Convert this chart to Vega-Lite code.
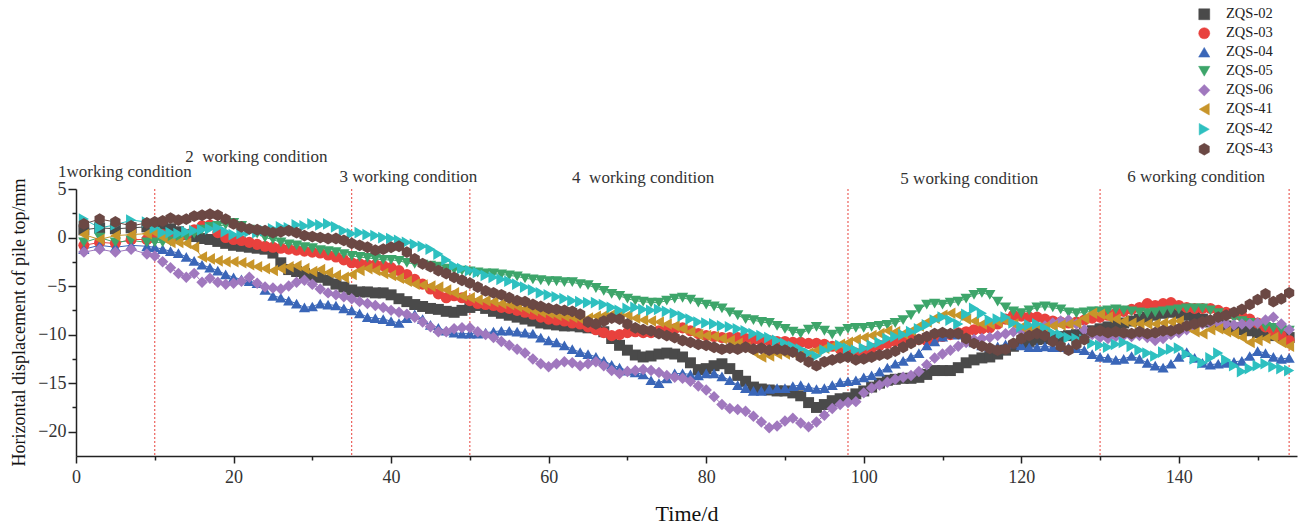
{
"$schema":"https://vega.github.io/schema/vega-lite/v6.json",
"width":1221,"height":267,
"autosize":{"type":"none"},
"padding":{"left":76,"top":189,"right":3,"bottom":70},
"background":"white",
"config":{"view":{"stroke":null},"font":"Liberation Serif"},
"resolve":{"axis":{"x":"independent","y":"independent"}},
"datasets":{
"rules":[{"d":10},{"d":35},{"d":50},{"d":98},{"d":130},{"d":154}],
"notes":[{"d":6.2,"v":6.2,"t":"1working condition"},{"d":22.9,"v":7.78,"t":"2\u00a0 working condition"},{"d":42.2,"v":5.72,"t":"3 working condition"},{"d":72.0,"v":5.62,"t":"4\u00a0 working condition"},{"d":113.4,"v":5.52,"t":"5 working condition"},{"d":142.2,"v":5.72,"t":"6 working condition"}],
"pts":[
{"d":1,"s":"ZQS-02","v":0.8},{"d":3,"s":"ZQS-02","v":1.0},{"d":5,"s":"ZQS-02","v":0.9},{"d":7,"s":"ZQS-02","v":1.0},{"d":9,"s":"ZQS-02","v":1.1},
{"d":10,"s":"ZQS-02","v":1.2},{"d":11,"s":"ZQS-02","v":1.1},{"d":12,"s":"ZQS-02","v":0.9},{"d":13,"s":"ZQS-02","v":0.6},{"d":14,"s":"ZQS-02","v":0.3},{"d":15,"s":"ZQS-02","v":0.1},{"d":16,"s":"ZQS-02","v":-0.1},{"d":17,"s":"ZQS-02","v":-0.2},{"d":18,"s":"ZQS-02","v":-0.4},{"d":19,"s":"ZQS-02","v":-0.6},
{"d":20,"s":"ZQS-02","v":-0.8},{"d":21,"s":"ZQS-02","v":-0.9},{"d":22,"s":"ZQS-02","v":-1.0},{"d":23,"s":"ZQS-02","v":-1.1},{"d":24,"s":"ZQS-02","v":-1.2},{"d":25,"s":"ZQS-02","v":-1.6},{"d":26,"s":"ZQS-02","v":-2.6},{"d":27,"s":"ZQS-02","v":-3.3},{"d":28,"s":"ZQS-02","v":-3.5},{"d":29,"s":"ZQS-02","v":-3.7},
{"d":30,"s":"ZQS-02","v":-3.9},{"d":31,"s":"ZQS-02","v":-4.1},{"d":32,"s":"ZQS-02","v":-4.4},{"d":33,"s":"ZQS-02","v":-4.8},{"d":34,"s":"ZQS-02","v":-5.1},{"d":35,"s":"ZQS-02","v":-5.4},{"d":36,"s":"ZQS-02","v":-5.6},{"d":37,"s":"ZQS-02","v":-5.6},{"d":38,"s":"ZQS-02","v":-5.7},{"d":39,"s":"ZQS-02","v":-5.7},
{"d":40,"s":"ZQS-02","v":-5.9},{"d":41,"s":"ZQS-02","v":-6.3},{"d":42,"s":"ZQS-02","v":-6.6},{"d":43,"s":"ZQS-02","v":-6.9},{"d":44,"s":"ZQS-02","v":-7.1},{"d":45,"s":"ZQS-02","v":-7.3},{"d":46,"s":"ZQS-02","v":-7.4},{"d":47,"s":"ZQS-02","v":-7.6},{"d":48,"s":"ZQS-02","v":-7.7},{"d":49,"s":"ZQS-02","v":-7.5},
{"d":50,"s":"ZQS-02","v":-7.2},{"d":51,"s":"ZQS-02","v":-7.0},{"d":52,"s":"ZQS-02","v":-7.3},{"d":53,"s":"ZQS-02","v":-7.6},{"d":54,"s":"ZQS-02","v":-7.8},{"d":55,"s":"ZQS-02","v":-8.0},{"d":56,"s":"ZQS-02","v":-8.2},{"d":57,"s":"ZQS-02","v":-8.4},{"d":58,"s":"ZQS-02","v":-8.6},{"d":59,"s":"ZQS-02","v":-8.8},
{"d":60,"s":"ZQS-02","v":-8.9},{"d":61,"s":"ZQS-02","v":-9.0},{"d":62,"s":"ZQS-02","v":-9.1},{"d":63,"s":"ZQS-02","v":-9.1},{"d":64,"s":"ZQS-02","v":-9.2},{"d":65,"s":"ZQS-02","v":-9.3},{"d":66,"s":"ZQS-02","v":-9.3},{"d":67,"s":"ZQS-02","v":-9.7},{"d":68,"s":"ZQS-02","v":-10.4},{"d":69,"s":"ZQS-02","v":-11.1},
{"d":70,"s":"ZQS-02","v":-11.6},{"d":71,"s":"ZQS-02","v":-12.1},{"d":72,"s":"ZQS-02","v":-12.3},{"d":73,"s":"ZQS-02","v":-12.2},{"d":74,"s":"ZQS-02","v":-12.0},{"d":75,"s":"ZQS-02","v":-11.9},{"d":76,"s":"ZQS-02","v":-12.0},{"d":77,"s":"ZQS-02","v":-12.3},{"d":78,"s":"ZQS-02","v":-12.9},{"d":79,"s":"ZQS-02","v":-13.6},
{"d":80,"s":"ZQS-02","v":-13.5},{"d":81,"s":"ZQS-02","v":-13.2},{"d":82,"s":"ZQS-02","v":-13.0},{"d":83,"s":"ZQS-02","v":-13.5},{"d":84,"s":"ZQS-02","v":-14.2},{"d":85,"s":"ZQS-02","v":-14.8},{"d":86,"s":"ZQS-02","v":-15.4},{"d":87,"s":"ZQS-02","v":-15.6},{"d":88,"s":"ZQS-02","v":-15.7},{"d":89,"s":"ZQS-02","v":-15.8},
{"d":90,"s":"ZQS-02","v":-15.8},{"d":91,"s":"ZQS-02","v":-16.0},{"d":92,"s":"ZQS-02","v":-16.3},{"d":93,"s":"ZQS-02","v":-17.0},{"d":94,"s":"ZQS-02","v":-17.5},{"d":95,"s":"ZQS-02","v":-17.2},{"d":96,"s":"ZQS-02","v":-16.8},{"d":97,"s":"ZQS-02","v":-16.6},{"d":98,"s":"ZQS-02","v":-16.5},{"d":99,"s":"ZQS-02","v":-16.1},
{"d":100,"s":"ZQS-02","v":-15.8},{"d":101,"s":"ZQS-02","v":-15.4},{"d":102,"s":"ZQS-02","v":-15.0},{"d":103,"s":"ZQS-02","v":-14.7},{"d":104,"s":"ZQS-02","v":-14.6},{"d":105,"s":"ZQS-02","v":-14.5},{"d":106,"s":"ZQS-02","v":-14.5},{"d":107,"s":"ZQS-02","v":-14.4},{"d":108,"s":"ZQS-02","v":-14.1},{"d":109,"s":"ZQS-02","v":-13.7},
{"d":110,"s":"ZQS-02","v":-13.7},{"d":111,"s":"ZQS-02","v":-13.7},{"d":112,"s":"ZQS-02","v":-13.4},{"d":113,"s":"ZQS-02","v":-12.9},{"d":114,"s":"ZQS-02","v":-12.6},{"d":115,"s":"ZQS-02","v":-12.4},{"d":116,"s":"ZQS-02","v":-12.3},{"d":117,"s":"ZQS-02","v":-12.0},{"d":118,"s":"ZQS-02","v":-11.6},{"d":119,"s":"ZQS-02","v":-11.2},
{"d":120,"s":"ZQS-02","v":-10.9},{"d":121,"s":"ZQS-02","v":-10.7},{"d":122,"s":"ZQS-02","v":-10.5},{"d":123,"s":"ZQS-02","v":-10.4},{"d":124,"s":"ZQS-02","v":-10.3},{"d":125,"s":"ZQS-02","v":-10.2},{"d":126,"s":"ZQS-02","v":-10.1},{"d":127,"s":"ZQS-02","v":-10.0},{"d":128,"s":"ZQS-02","v":-9.8},{"d":129,"s":"ZQS-02","v":-9.6},
{"d":130,"s":"ZQS-02","v":-9.4},{"d":131,"s":"ZQS-02","v":-9.2},{"d":132,"s":"ZQS-02","v":-9.0},{"d":133,"s":"ZQS-02","v":-8.8},{"d":134,"s":"ZQS-02","v":-8.6},{"d":135,"s":"ZQS-02","v":-8.4},{"d":136,"s":"ZQS-02","v":-8.2},{"d":137,"s":"ZQS-02","v":-8.0},{"d":138,"s":"ZQS-02","v":-7.8},{"d":139,"s":"ZQS-02","v":-7.7},
{"d":140,"s":"ZQS-02","v":-7.8},{"d":141,"s":"ZQS-02","v":-8.0},{"d":142,"s":"ZQS-02","v":-8.2},{"d":143,"s":"ZQS-02","v":-8.4},{"d":144,"s":"ZQS-02","v":-8.7},{"d":145,"s":"ZQS-02","v":-8.9},{"d":146,"s":"ZQS-02","v":-9.1},{"d":147,"s":"ZQS-02","v":-9.3},{"d":148,"s":"ZQS-02","v":-9.5},{"d":149,"s":"ZQS-02","v":-9.6},
{"d":150,"s":"ZQS-02","v":-9.8},{"d":151,"s":"ZQS-02","v":-10.0},{"d":152,"s":"ZQS-02","v":-10.1},{"d":153,"s":"ZQS-02","v":-10.2},{"d":154,"s":"ZQS-02","v":-10.3},
{"d":1,"s":"ZQS-03","v":-0.8},{"d":3,"s":"ZQS-03","v":-0.5},{"d":5,"s":"ZQS-03","v":-0.6},{"d":7,"s":"ZQS-03","v":-0.2},{"d":9,"s":"ZQS-03","v":-0.2},
{"d":10,"s":"ZQS-03","v":0.2},{"d":11,"s":"ZQS-03","v":0.3},{"d":12,"s":"ZQS-03","v":0.1},{"d":13,"s":"ZQS-03","v":0.0},{"d":14,"s":"ZQS-03","v":0.3},{"d":15,"s":"ZQS-03","v":0.8},{"d":16,"s":"ZQS-03","v":1.2},{"d":17,"s":"ZQS-03","v":1.3},{"d":18,"s":"ZQS-03","v":0.5},{"d":19,"s":"ZQS-03","v":0.0},
{"d":20,"s":"ZQS-03","v":-0.2},{"d":21,"s":"ZQS-03","v":-0.3},{"d":22,"s":"ZQS-03","v":-0.5},{"d":23,"s":"ZQS-03","v":-0.7},{"d":24,"s":"ZQS-03","v":-0.9},{"d":25,"s":"ZQS-03","v":-1.0},{"d":26,"s":"ZQS-03","v":-1.1},{"d":27,"s":"ZQS-03","v":-1.2},{"d":28,"s":"ZQS-03","v":-1.3},{"d":29,"s":"ZQS-03","v":-1.4},
{"d":30,"s":"ZQS-03","v":-1.5},{"d":31,"s":"ZQS-03","v":-1.6},{"d":32,"s":"ZQS-03","v":-1.8},{"d":33,"s":"ZQS-03","v":-2.0},{"d":34,"s":"ZQS-03","v":-2.3},{"d":35,"s":"ZQS-03","v":-2.6},{"d":36,"s":"ZQS-03","v":-2.7},{"d":37,"s":"ZQS-03","v":-2.8},{"d":38,"s":"ZQS-03","v":-2.8},{"d":39,"s":"ZQS-03","v":-2.9},
{"d":40,"s":"ZQS-03","v":-3.1},{"d":41,"s":"ZQS-03","v":-3.4},{"d":42,"s":"ZQS-03","v":-3.8},{"d":43,"s":"ZQS-03","v":-4.3},{"d":44,"s":"ZQS-03","v":-4.8},{"d":45,"s":"ZQS-03","v":-5.3},{"d":46,"s":"ZQS-03","v":-5.8},{"d":47,"s":"ZQS-03","v":-6.2},{"d":48,"s":"ZQS-03","v":-6.0},{"d":49,"s":"ZQS-03","v":-6.2},
{"d":50,"s":"ZQS-03","v":-6.5},{"d":51,"s":"ZQS-03","v":-6.8},{"d":52,"s":"ZQS-03","v":-6.9},{"d":53,"s":"ZQS-03","v":-7.0},{"d":54,"s":"ZQS-03","v":-7.2},{"d":55,"s":"ZQS-03","v":-7.3},{"d":56,"s":"ZQS-03","v":-7.5},{"d":57,"s":"ZQS-03","v":-7.7},{"d":58,"s":"ZQS-03","v":-7.9},{"d":59,"s":"ZQS-03","v":-8.2},
{"d":60,"s":"ZQS-03","v":-8.4},{"d":61,"s":"ZQS-03","v":-8.5},{"d":62,"s":"ZQS-03","v":-8.6},{"d":63,"s":"ZQS-03","v":-8.8},{"d":64,"s":"ZQS-03","v":-8.9},{"d":65,"s":"ZQS-03","v":-9.2},{"d":66,"s":"ZQS-03","v":-9.5},{"d":67,"s":"ZQS-03","v":-9.8},{"d":68,"s":"ZQS-03","v":-10.1},{"d":69,"s":"ZQS-03","v":-10.0},
{"d":70,"s":"ZQS-03","v":-9.8},{"d":71,"s":"ZQS-03","v":-9.7},{"d":72,"s":"ZQS-03","v":-9.8},{"d":73,"s":"ZQS-03","v":-9.8},{"d":74,"s":"ZQS-03","v":-9.6},{"d":75,"s":"ZQS-03","v":-9.5},{"d":76,"s":"ZQS-03","v":-9.4},{"d":77,"s":"ZQS-03","v":-9.3},{"d":78,"s":"ZQS-03","v":-9.6},{"d":79,"s":"ZQS-03","v":-9.9},
{"d":80,"s":"ZQS-03","v":-10.1},{"d":81,"s":"ZQS-03","v":-10.2},{"d":82,"s":"ZQS-03","v":-10.3},{"d":83,"s":"ZQS-03","v":-10.3},{"d":84,"s":"ZQS-03","v":-10.3},{"d":85,"s":"ZQS-03","v":-10.4},{"d":86,"s":"ZQS-03","v":-10.5},{"d":87,"s":"ZQS-03","v":-10.6},{"d":88,"s":"ZQS-03","v":-10.6},{"d":89,"s":"ZQS-03","v":-10.7},
{"d":90,"s":"ZQS-03","v":-10.7},{"d":91,"s":"ZQS-03","v":-10.8},{"d":92,"s":"ZQS-03","v":-10.8},{"d":93,"s":"ZQS-03","v":-10.9},{"d":94,"s":"ZQS-03","v":-10.9},{"d":95,"s":"ZQS-03","v":-11.0},{"d":96,"s":"ZQS-03","v":-11.2},{"d":97,"s":"ZQS-03","v":-11.5},{"d":98,"s":"ZQS-03","v":-11.7},{"d":99,"s":"ZQS-03","v":-11.9},
{"d":100,"s":"ZQS-03","v":-11.7},{"d":101,"s":"ZQS-03","v":-11.4},{"d":102,"s":"ZQS-03","v":-11.1},{"d":103,"s":"ZQS-03","v":-10.9},{"d":104,"s":"ZQS-03","v":-10.7},{"d":105,"s":"ZQS-03","v":-10.5},{"d":106,"s":"ZQS-03","v":-10.4},{"d":107,"s":"ZQS-03","v":-10.5},{"d":108,"s":"ZQS-03","v":-10.6},{"d":109,"s":"ZQS-03","v":-10.4},
{"d":110,"s":"ZQS-03","v":-10.2},{"d":111,"s":"ZQS-03","v":-10.0},{"d":112,"s":"ZQS-03","v":-9.8},{"d":113,"s":"ZQS-03","v":-9.7},{"d":114,"s":"ZQS-03","v":-9.5},{"d":115,"s":"ZQS-03","v":-9.4},{"d":116,"s":"ZQS-03","v":-9.3},{"d":117,"s":"ZQS-03","v":-8.9},{"d":118,"s":"ZQS-03","v":-8.4},{"d":119,"s":"ZQS-03","v":-8.0},
{"d":120,"s":"ZQS-03","v":-8.1},{"d":121,"s":"ZQS-03","v":-8.2},{"d":122,"s":"ZQS-03","v":-8.2},{"d":123,"s":"ZQS-03","v":-8.4},{"d":124,"s":"ZQS-03","v":-8.6},{"d":125,"s":"ZQS-03","v":-8.7},{"d":126,"s":"ZQS-03","v":-8.8},{"d":127,"s":"ZQS-03","v":-8.7},{"d":128,"s":"ZQS-03","v":-8.5},{"d":129,"s":"ZQS-03","v":-8.3},
{"d":130,"s":"ZQS-03","v":-8.2},{"d":131,"s":"ZQS-03","v":-8.0},{"d":132,"s":"ZQS-03","v":-7.8},{"d":133,"s":"ZQS-03","v":-7.6},{"d":134,"s":"ZQS-03","v":-7.4},{"d":135,"s":"ZQS-03","v":-7.2},{"d":136,"s":"ZQS-03","v":-6.8},{"d":137,"s":"ZQS-03","v":-7.0},{"d":138,"s":"ZQS-03","v":-6.8},{"d":139,"s":"ZQS-03","v":-6.7},
{"d":140,"s":"ZQS-03","v":-7.0},{"d":141,"s":"ZQS-03","v":-7.2},{"d":142,"s":"ZQS-03","v":-7.3},{"d":143,"s":"ZQS-03","v":-7.3},{"d":144,"s":"ZQS-03","v":-7.3},{"d":145,"s":"ZQS-03","v":-7.5},{"d":146,"s":"ZQS-03","v":-7.7},{"d":147,"s":"ZQS-03","v":-7.9},{"d":148,"s":"ZQS-03","v":-8.1},{"d":149,"s":"ZQS-03","v":-8.4},
{"d":150,"s":"ZQS-03","v":-8.8},{"d":151,"s":"ZQS-03","v":-9.2},{"d":152,"s":"ZQS-03","v":-9.6},{"d":153,"s":"ZQS-03","v":-10.1},{"d":154,"s":"ZQS-03","v":-10.6},
{"d":1,"s":"ZQS-04","v":-1.2},{"d":3,"s":"ZQS-04","v":-0.8},{"d":5,"s":"ZQS-04","v":-1.0},{"d":7,"s":"ZQS-04","v":-0.8},{"d":9,"s":"ZQS-04","v":-0.9},
{"d":10,"s":"ZQS-04","v":-1.0},{"d":11,"s":"ZQS-04","v":-1.2},{"d":12,"s":"ZQS-04","v":-1.4},{"d":13,"s":"ZQS-04","v":-1.6},{"d":14,"s":"ZQS-04","v":-2.0},{"d":15,"s":"ZQS-04","v":-2.4},{"d":16,"s":"ZQS-04","v":-2.8},{"d":17,"s":"ZQS-04","v":-3.1},{"d":18,"s":"ZQS-04","v":-3.4},{"d":19,"s":"ZQS-04","v":-3.8},
{"d":20,"s":"ZQS-04","v":-4.1},{"d":21,"s":"ZQS-04","v":-4.3},{"d":22,"s":"ZQS-04","v":-4.5},{"d":23,"s":"ZQS-04","v":-4.7},{"d":24,"s":"ZQS-04","v":-5.4},{"d":25,"s":"ZQS-04","v":-6.0},{"d":26,"s":"ZQS-04","v":-6.2},{"d":27,"s":"ZQS-04","v":-6.5},{"d":28,"s":"ZQS-04","v":-6.8},{"d":29,"s":"ZQS-04","v":-7.2},
{"d":30,"s":"ZQS-04","v":-7.1},{"d":31,"s":"ZQS-04","v":-6.8},{"d":32,"s":"ZQS-04","v":-6.9},{"d":33,"s":"ZQS-04","v":-7.0},{"d":34,"s":"ZQS-04","v":-7.3},{"d":35,"s":"ZQS-04","v":-7.5},{"d":36,"s":"ZQS-04","v":-7.8},{"d":37,"s":"ZQS-04","v":-8.2},{"d":38,"s":"ZQS-04","v":-8.3},{"d":39,"s":"ZQS-04","v":-8.4},
{"d":40,"s":"ZQS-04","v":-8.6},{"d":41,"s":"ZQS-04","v":-8.8},{"d":42,"s":"ZQS-04","v":-8.3},{"d":43,"s":"ZQS-04","v":-7.9},{"d":44,"s":"ZQS-04","v":-8.4},{"d":45,"s":"ZQS-04","v":-9.0},{"d":46,"s":"ZQS-04","v":-9.3},{"d":47,"s":"ZQS-04","v":-9.6},{"d":48,"s":"ZQS-04","v":-9.8},{"d":49,"s":"ZQS-04","v":-9.9},
{"d":50,"s":"ZQS-04","v":-9.9},{"d":51,"s":"ZQS-04","v":-9.9},{"d":52,"s":"ZQS-04","v":-9.8},{"d":53,"s":"ZQS-04","v":-9.7},{"d":54,"s":"ZQS-04","v":-9.6},{"d":55,"s":"ZQS-04","v":-9.6},{"d":56,"s":"ZQS-04","v":-9.7},{"d":57,"s":"ZQS-04","v":-9.8},{"d":58,"s":"ZQS-04","v":-9.9},{"d":59,"s":"ZQS-04","v":-10.3},
{"d":60,"s":"ZQS-04","v":-10.6},{"d":61,"s":"ZQS-04","v":-10.8},{"d":62,"s":"ZQS-04","v":-11.1},{"d":63,"s":"ZQS-04","v":-11.5},{"d":64,"s":"ZQS-04","v":-11.8},{"d":65,"s":"ZQS-04","v":-12.0},{"d":66,"s":"ZQS-04","v":-12.3},{"d":67,"s":"ZQS-04","v":-12.7},{"d":68,"s":"ZQS-04","v":-13.1},{"d":69,"s":"ZQS-04","v":-13.4},
{"d":70,"s":"ZQS-04","v":-13.7},{"d":71,"s":"ZQS-04","v":-13.9},{"d":72,"s":"ZQS-04","v":-14.1},{"d":73,"s":"ZQS-04","v":-14.7},{"d":74,"s":"ZQS-04","v":-15.0},{"d":75,"s":"ZQS-04","v":-14.5},{"d":76,"s":"ZQS-04","v":-14.0},{"d":77,"s":"ZQS-04","v":-14.0},{"d":78,"s":"ZQS-04","v":-14.1},{"d":79,"s":"ZQS-04","v":-14.2},
{"d":80,"s":"ZQS-04","v":-14.0},{"d":81,"s":"ZQS-04","v":-14.0},{"d":82,"s":"ZQS-04","v":-14.3},{"d":83,"s":"ZQS-04","v":-14.7},{"d":84,"s":"ZQS-04","v":-15.2},{"d":85,"s":"ZQS-04","v":-15.5},{"d":86,"s":"ZQS-04","v":-15.8},{"d":87,"s":"ZQS-04","v":-15.8},{"d":88,"s":"ZQS-04","v":-15.6},{"d":89,"s":"ZQS-04","v":-15.5},
{"d":90,"s":"ZQS-04","v":-15.5},{"d":91,"s":"ZQS-04","v":-15.3},{"d":92,"s":"ZQS-04","v":-15.2},{"d":93,"s":"ZQS-04","v":-15.4},{"d":94,"s":"ZQS-04","v":-15.6},{"d":95,"s":"ZQS-04","v":-15.5},{"d":96,"s":"ZQS-04","v":-15.2},{"d":97,"s":"ZQS-04","v":-14.9},{"d":98,"s":"ZQS-04","v":-14.8},{"d":99,"s":"ZQS-04","v":-14.7},
{"d":100,"s":"ZQS-04","v":-14.4},{"d":101,"s":"ZQS-04","v":-14.2},{"d":102,"s":"ZQS-04","v":-13.8},{"d":103,"s":"ZQS-04","v":-13.4},{"d":104,"s":"ZQS-04","v":-13.0},{"d":105,"s":"ZQS-04","v":-12.7},{"d":106,"s":"ZQS-04","v":-12.3},{"d":107,"s":"ZQS-04","v":-11.9},{"d":108,"s":"ZQS-04","v":-11.1},{"d":109,"s":"ZQS-04","v":-10.7},
{"d":110,"s":"ZQS-04","v":-10.2},{"d":111,"s":"ZQS-04","v":-9.9},{"d":112,"s":"ZQS-04","v":-10.0},{"d":113,"s":"ZQS-04","v":-10.4},{"d":114,"s":"ZQS-04","v":-10.8},{"d":115,"s":"ZQS-04","v":-11.1},{"d":116,"s":"ZQS-04","v":-11.3},{"d":117,"s":"ZQS-04","v":-11.2},{"d":118,"s":"ZQS-04","v":-11.0},{"d":119,"s":"ZQS-04","v":-10.9},
{"d":120,"s":"ZQS-04","v":-11.1},{"d":121,"s":"ZQS-04","v":-11.3},{"d":122,"s":"ZQS-04","v":-11.3},{"d":123,"s":"ZQS-04","v":-11.2},{"d":124,"s":"ZQS-04","v":-11.3},{"d":125,"s":"ZQS-04","v":-11.3},{"d":126,"s":"ZQS-04","v":-11.3},{"d":127,"s":"ZQS-04","v":-11.4},{"d":128,"s":"ZQS-04","v":-11.6},{"d":129,"s":"ZQS-04","v":-12.0},
{"d":130,"s":"ZQS-04","v":-12.3},{"d":131,"s":"ZQS-04","v":-12.4},{"d":132,"s":"ZQS-04","v":-12.6},{"d":133,"s":"ZQS-04","v":-12.5},{"d":134,"s":"ZQS-04","v":-12.2},{"d":135,"s":"ZQS-04","v":-12.5},{"d":136,"s":"ZQS-04","v":-12.9},{"d":137,"s":"ZQS-04","v":-13.2},{"d":138,"s":"ZQS-04","v":-13.4},{"d":139,"s":"ZQS-04","v":-13.0},
{"d":140,"s":"ZQS-04","v":-12.3},{"d":141,"s":"ZQS-04","v":-11.8},{"d":142,"s":"ZQS-04","v":-12.4},{"d":143,"s":"ZQS-04","v":-12.9},{"d":144,"s":"ZQS-04","v":-13.1},{"d":145,"s":"ZQS-04","v":-13.0},{"d":146,"s":"ZQS-04","v":-12.9},{"d":147,"s":"ZQS-04","v":-12.8},{"d":148,"s":"ZQS-04","v":-12.7},{"d":149,"s":"ZQS-04","v":-12.2},
{"d":150,"s":"ZQS-04","v":-11.7},{"d":151,"s":"ZQS-04","v":-11.9},{"d":152,"s":"ZQS-04","v":-12.3},{"d":153,"s":"ZQS-04","v":-12.5},{"d":154,"s":"ZQS-04","v":-12.4},
{"d":1,"s":"ZQS-05","v":-0.5},{"d":3,"s":"ZQS-05","v":0.0},{"d":5,"s":"ZQS-05","v":-0.5},{"d":7,"s":"ZQS-05","v":-0.3},{"d":9,"s":"ZQS-05","v":-0.5},
{"d":10,"s":"ZQS-05","v":-0.5},{"d":11,"s":"ZQS-05","v":-0.5},{"d":12,"s":"ZQS-05","v":-0.4},{"d":13,"s":"ZQS-05","v":-0.2},{"d":14,"s":"ZQS-05","v":0.1},{"d":15,"s":"ZQS-05","v":0.4},{"d":16,"s":"ZQS-05","v":0.8},{"d":17,"s":"ZQS-05","v":1.1},{"d":18,"s":"ZQS-05","v":1.2},{"d":19,"s":"ZQS-05","v":1.3},
{"d":20,"s":"ZQS-05","v":1.5},{"d":21,"s":"ZQS-05","v":1.2},{"d":22,"s":"ZQS-05","v":0.8},{"d":23,"s":"ZQS-05","v":0.4},{"d":24,"s":"ZQS-05","v":0.0},{"d":25,"s":"ZQS-05","v":-0.2},{"d":26,"s":"ZQS-05","v":-0.5},{"d":27,"s":"ZQS-05","v":-0.7},{"d":28,"s":"ZQS-05","v":-0.8},{"d":29,"s":"ZQS-05","v":-1.0},
{"d":30,"s":"ZQS-05","v":-1.1},{"d":31,"s":"ZQS-05","v":-1.3},{"d":32,"s":"ZQS-05","v":-1.4},{"d":33,"s":"ZQS-05","v":-1.5},{"d":34,"s":"ZQS-05","v":-1.7},{"d":35,"s":"ZQS-05","v":-1.9},{"d":36,"s":"ZQS-05","v":-2.0},{"d":37,"s":"ZQS-05","v":-2.1},{"d":38,"s":"ZQS-05","v":-2.2},{"d":39,"s":"ZQS-05","v":-2.3},
{"d":40,"s":"ZQS-05","v":-2.3},{"d":41,"s":"ZQS-05","v":-2.4},{"d":42,"s":"ZQS-05","v":-2.6},{"d":43,"s":"ZQS-05","v":-2.7},{"d":44,"s":"ZQS-05","v":-2.8},{"d":45,"s":"ZQS-05","v":-2.9},{"d":46,"s":"ZQS-05","v":-3.0},{"d":47,"s":"ZQS-05","v":-3.2},{"d":48,"s":"ZQS-05","v":-3.3},{"d":49,"s":"ZQS-05","v":-3.4},
{"d":50,"s":"ZQS-05","v":-3.5},{"d":51,"s":"ZQS-05","v":-3.6},{"d":52,"s":"ZQS-05","v":-3.7},{"d":53,"s":"ZQS-05","v":-3.7},{"d":54,"s":"ZQS-05","v":-3.8},{"d":55,"s":"ZQS-05","v":-3.9},{"d":56,"s":"ZQS-05","v":-4.0},{"d":57,"s":"ZQS-05","v":-4.2},{"d":58,"s":"ZQS-05","v":-4.3},{"d":59,"s":"ZQS-05","v":-4.4},
{"d":60,"s":"ZQS-05","v":-4.5},{"d":61,"s":"ZQS-05","v":-4.5},{"d":62,"s":"ZQS-05","v":-4.6},{"d":63,"s":"ZQS-05","v":-4.6},{"d":64,"s":"ZQS-05","v":-4.8},{"d":65,"s":"ZQS-05","v":-4.9},{"d":66,"s":"ZQS-05","v":-5.2},{"d":67,"s":"ZQS-05","v":-5.5},{"d":68,"s":"ZQS-05","v":-5.8},{"d":69,"s":"ZQS-05","v":-6.0},
{"d":70,"s":"ZQS-05","v":-6.3},{"d":71,"s":"ZQS-05","v":-6.5},{"d":72,"s":"ZQS-05","v":-6.6},{"d":73,"s":"ZQS-05","v":-6.7},{"d":74,"s":"ZQS-05","v":-6.7},{"d":75,"s":"ZQS-05","v":-6.5},{"d":76,"s":"ZQS-05","v":-6.3},{"d":77,"s":"ZQS-05","v":-6.2},{"d":78,"s":"ZQS-05","v":-6.4},{"d":79,"s":"ZQS-05","v":-6.7},
{"d":80,"s":"ZQS-05","v":-6.9},{"d":81,"s":"ZQS-05","v":-7.1},{"d":82,"s":"ZQS-05","v":-7.3},{"d":83,"s":"ZQS-05","v":-7.7},{"d":84,"s":"ZQS-05","v":-8.0},{"d":85,"s":"ZQS-05","v":-8.4},{"d":86,"s":"ZQS-05","v":-8.5},{"d":87,"s":"ZQS-05","v":-8.7},{"d":88,"s":"ZQS-05","v":-8.8},{"d":89,"s":"ZQS-05","v":-9.1},
{"d":90,"s":"ZQS-05","v":-9.4},{"d":91,"s":"ZQS-05","v":-9.7},{"d":92,"s":"ZQS-05","v":-9.9},{"d":93,"s":"ZQS-05","v":-9.5},{"d":94,"s":"ZQS-05","v":-9.2},{"d":95,"s":"ZQS-05","v":-9.6},{"d":96,"s":"ZQS-05","v":-10.0},{"d":97,"s":"ZQS-05","v":-9.7},{"d":98,"s":"ZQS-05","v":-9.4},{"d":99,"s":"ZQS-05","v":-9.3},
{"d":100,"s":"ZQS-05","v":-9.3},{"d":101,"s":"ZQS-05","v":-9.2},{"d":102,"s":"ZQS-05","v":-9.1},{"d":103,"s":"ZQS-05","v":-9.0},{"d":104,"s":"ZQS-05","v":-8.8},{"d":105,"s":"ZQS-05","v":-8.5},{"d":106,"s":"ZQS-05","v":-8.0},{"d":107,"s":"ZQS-05","v":-7.4},{"d":108,"s":"ZQS-05","v":-6.9},{"d":109,"s":"ZQS-05","v":-6.8},
{"d":110,"s":"ZQS-05","v":-6.9},{"d":111,"s":"ZQS-05","v":-6.7},{"d":112,"s":"ZQS-05","v":-6.6},{"d":113,"s":"ZQS-05","v":-6.3},{"d":114,"s":"ZQS-05","v":-5.9},{"d":115,"s":"ZQS-05","v":-5.7},{"d":116,"s":"ZQS-05","v":-5.9},{"d":117,"s":"ZQS-05","v":-6.6},{"d":118,"s":"ZQS-05","v":-7.2},{"d":119,"s":"ZQS-05","v":-7.6},
{"d":120,"s":"ZQS-05","v":-7.8},{"d":121,"s":"ZQS-05","v":-7.5},{"d":122,"s":"ZQS-05","v":-7.2},{"d":123,"s":"ZQS-05","v":-7.1},{"d":124,"s":"ZQS-05","v":-7.2},{"d":125,"s":"ZQS-05","v":-7.4},{"d":126,"s":"ZQS-05","v":-7.7},{"d":127,"s":"ZQS-05","v":-7.8},{"d":128,"s":"ZQS-05","v":-7.7},{"d":129,"s":"ZQS-05","v":-7.6},
{"d":130,"s":"ZQS-05","v":-7.6},{"d":131,"s":"ZQS-05","v":-7.5},{"d":132,"s":"ZQS-05","v":-7.4},{"d":133,"s":"ZQS-05","v":-7.5},{"d":134,"s":"ZQS-05","v":-7.6},{"d":135,"s":"ZQS-05","v":-7.7},{"d":136,"s":"ZQS-05","v":-7.8},{"d":137,"s":"ZQS-05","v":-7.7},{"d":138,"s":"ZQS-05","v":-7.6},{"d":139,"s":"ZQS-05","v":-7.5},
{"d":140,"s":"ZQS-05","v":-7.4},{"d":141,"s":"ZQS-05","v":-7.3},{"d":142,"s":"ZQS-05","v":-7.3},{"d":143,"s":"ZQS-05","v":-7.3},{"d":144,"s":"ZQS-05","v":-7.5},{"d":145,"s":"ZQS-05","v":-7.8},{"d":146,"s":"ZQS-05","v":-8.1},{"d":147,"s":"ZQS-05","v":-8.3},{"d":148,"s":"ZQS-05","v":-8.6},{"d":149,"s":"ZQS-05","v":-8.8},
{"d":150,"s":"ZQS-05","v":-9.0},{"d":151,"s":"ZQS-05","v":-9.2},{"d":152,"s":"ZQS-05","v":-9.3},{"d":153,"s":"ZQS-05","v":-9.5},{"d":154,"s":"ZQS-05","v":-9.6},
{"d":1,"s":"ZQS-06","v":-1.5},{"d":3,"s":"ZQS-06","v":-1.2},{"d":5,"s":"ZQS-06","v":-1.5},{"d":7,"s":"ZQS-06","v":-1.2},{"d":9,"s":"ZQS-06","v":-1.7},
{"d":10,"s":"ZQS-06","v":-1.9},{"d":11,"s":"ZQS-06","v":-2.5},{"d":12,"s":"ZQS-06","v":-3.1},{"d":13,"s":"ZQS-06","v":-3.7},{"d":14,"s":"ZQS-06","v":-4.1},{"d":15,"s":"ZQS-06","v":-3.7},{"d":16,"s":"ZQS-06","v":-4.6},{"d":17,"s":"ZQS-06","v":-4.2},{"d":18,"s":"ZQS-06","v":-4.6},{"d":19,"s":"ZQS-06","v":-4.8},
{"d":20,"s":"ZQS-06","v":-4.7},{"d":21,"s":"ZQS-06","v":-4.5},{"d":22,"s":"ZQS-06","v":-4.1},{"d":23,"s":"ZQS-06","v":-4.7},{"d":24,"s":"ZQS-06","v":-5.1},{"d":25,"s":"ZQS-06","v":-5.2},{"d":26,"s":"ZQS-06","v":-5.3},{"d":27,"s":"ZQS-06","v":-5.0},{"d":28,"s":"ZQS-06","v":-4.6},{"d":29,"s":"ZQS-06","v":-4.4},
{"d":30,"s":"ZQS-06","v":-4.8},{"d":31,"s":"ZQS-06","v":-5.3},{"d":32,"s":"ZQS-06","v":-5.7},{"d":33,"s":"ZQS-06","v":-5.9},{"d":34,"s":"ZQS-06","v":-6.1},{"d":35,"s":"ZQS-06","v":-6.3},{"d":36,"s":"ZQS-06","v":-6.6},{"d":37,"s":"ZQS-06","v":-6.8},{"d":38,"s":"ZQS-06","v":-7.0},{"d":39,"s":"ZQS-06","v":-7.2},
{"d":40,"s":"ZQS-06","v":-7.5},{"d":41,"s":"ZQS-06","v":-7.7},{"d":42,"s":"ZQS-06","v":-7.9},{"d":43,"s":"ZQS-06","v":-8.2},{"d":44,"s":"ZQS-06","v":-8.7},{"d":45,"s":"ZQS-06","v":-9.2},{"d":46,"s":"ZQS-06","v":-9.7},{"d":47,"s":"ZQS-06","v":-9.7},{"d":48,"s":"ZQS-06","v":-9.4},{"d":49,"s":"ZQS-06","v":-9.3},
{"d":50,"s":"ZQS-06","v":-9.3},{"d":51,"s":"ZQS-06","v":-9.7},{"d":52,"s":"ZQS-06","v":-10.0},{"d":53,"s":"ZQS-06","v":-10.3},{"d":54,"s":"ZQS-06","v":-10.7},{"d":55,"s":"ZQS-06","v":-11.1},{"d":56,"s":"ZQS-06","v":-11.5},{"d":57,"s":"ZQS-06","v":-11.9},{"d":58,"s":"ZQS-06","v":-12.5},{"d":59,"s":"ZQS-06","v":-13.0},
{"d":60,"s":"ZQS-06","v":-13.3},{"d":61,"s":"ZQS-06","v":-13.0},{"d":62,"s":"ZQS-06","v":-12.8},{"d":63,"s":"ZQS-06","v":-12.9},{"d":64,"s":"ZQS-06","v":-13.2},{"d":65,"s":"ZQS-06","v":-13.0},{"d":66,"s":"ZQS-06","v":-12.8},{"d":67,"s":"ZQS-06","v":-13.2},{"d":68,"s":"ZQS-06","v":-13.7},{"d":69,"s":"ZQS-06","v":-14.0},
{"d":70,"s":"ZQS-06","v":-13.8},{"d":71,"s":"ZQS-06","v":-13.7},{"d":72,"s":"ZQS-06","v":-13.6},{"d":73,"s":"ZQS-06","v":-13.7},{"d":74,"s":"ZQS-06","v":-13.9},{"d":75,"s":"ZQS-06","v":-14.2},{"d":76,"s":"ZQS-06","v":-14.4},{"d":77,"s":"ZQS-06","v":-14.5},{"d":78,"s":"ZQS-06","v":-14.8},{"d":79,"s":"ZQS-06","v":-15.3},
{"d":80,"s":"ZQS-06","v":-15.7},{"d":81,"s":"ZQS-06","v":-16.4},{"d":82,"s":"ZQS-06","v":-17.2},{"d":83,"s":"ZQS-06","v":-17.6},{"d":84,"s":"ZQS-06","v":-17.7},{"d":85,"s":"ZQS-06","v":-17.9},{"d":86,"s":"ZQS-06","v":-18.4},{"d":87,"s":"ZQS-06","v":-19.0},{"d":88,"s":"ZQS-06","v":-19.6},{"d":89,"s":"ZQS-06","v":-19.4},
{"d":90,"s":"ZQS-06","v":-18.9},{"d":91,"s":"ZQS-06","v":-18.6},{"d":92,"s":"ZQS-06","v":-19.1},{"d":93,"s":"ZQS-06","v":-19.5},{"d":94,"s":"ZQS-06","v":-19.0},{"d":95,"s":"ZQS-06","v":-18.3},{"d":96,"s":"ZQS-06","v":-17.6},{"d":97,"s":"ZQS-06","v":-17.2},{"d":98,"s":"ZQS-06","v":-17.0},{"d":99,"s":"ZQS-06","v":-16.9},
{"d":100,"s":"ZQS-06","v":-16.0},{"d":101,"s":"ZQS-06","v":-15.5},{"d":102,"s":"ZQS-06","v":-15.2},{"d":103,"s":"ZQS-06","v":-14.9},{"d":104,"s":"ZQS-06","v":-14.6},{"d":105,"s":"ZQS-06","v":-14.4},{"d":106,"s":"ZQS-06","v":-14.2},{"d":107,"s":"ZQS-06","v":-13.8},{"d":108,"s":"ZQS-06","v":-13.1},{"d":109,"s":"ZQS-06","v":-12.4},
{"d":110,"s":"ZQS-06","v":-12.0},{"d":111,"s":"ZQS-06","v":-11.6},{"d":112,"s":"ZQS-06","v":-11.2},{"d":113,"s":"ZQS-06","v":-10.8},{"d":114,"s":"ZQS-06","v":-10.5},{"d":115,"s":"ZQS-06","v":-10.4},{"d":116,"s":"ZQS-06","v":-10.3},{"d":117,"s":"ZQS-06","v":-10.1},{"d":118,"s":"ZQS-06","v":-9.9},{"d":119,"s":"ZQS-06","v":-9.7},
{"d":120,"s":"ZQS-06","v":-9.6},{"d":121,"s":"ZQS-06","v":-9.4},{"d":122,"s":"ZQS-06","v":-9.3},{"d":123,"s":"ZQS-06","v":-9.1},{"d":124,"s":"ZQS-06","v":-8.8},{"d":125,"s":"ZQS-06","v":-8.6},{"d":126,"s":"ZQS-06","v":-8.5},{"d":127,"s":"ZQS-06","v":-8.9},{"d":128,"s":"ZQS-06","v":-9.5},{"d":129,"s":"ZQS-06","v":-10.0},
{"d":130,"s":"ZQS-06","v":-10.3},{"d":131,"s":"ZQS-06","v":-10.4},{"d":132,"s":"ZQS-06","v":-10.2},{"d":133,"s":"ZQS-06","v":-10.1},{"d":134,"s":"ZQS-06","v":-10.2},{"d":135,"s":"ZQS-06","v":-10.1},{"d":136,"s":"ZQS-06","v":-10.3},{"d":137,"s":"ZQS-06","v":-10.6},{"d":138,"s":"ZQS-06","v":-10.4},{"d":139,"s":"ZQS-06","v":-10.0},
{"d":140,"s":"ZQS-06","v":-9.8},{"d":141,"s":"ZQS-06","v":-9.5},{"d":142,"s":"ZQS-06","v":-9.2},{"d":143,"s":"ZQS-06","v":-8.9},{"d":144,"s":"ZQS-06","v":-8.8},{"d":145,"s":"ZQS-06","v":-8.8},{"d":146,"s":"ZQS-06","v":-8.9},{"d":147,"s":"ZQS-06","v":-9.0},{"d":148,"s":"ZQS-06","v":-8.9},{"d":149,"s":"ZQS-06","v":-8.9},
{"d":150,"s":"ZQS-06","v":-8.8},{"d":151,"s":"ZQS-06","v":-8.5},{"d":152,"s":"ZQS-06","v":-8.2},{"d":153,"s":"ZQS-06","v":-8.9},{"d":154,"s":"ZQS-06","v":-9.5},
{"d":1,"s":"ZQS-41","v":0.3},{"d":3,"s":"ZQS-41","v":-0.2},{"d":5,"s":"ZQS-41","v":0.2},{"d":7,"s":"ZQS-41","v":0.3},{"d":9,"s":"ZQS-41","v":0.4},
{"d":10,"s":"ZQS-41","v":0.5},{"d":11,"s":"ZQS-41","v":0.0},{"d":12,"s":"ZQS-41","v":-0.5},{"d":13,"s":"ZQS-41","v":-0.5},{"d":14,"s":"ZQS-41","v":-0.6},{"d":15,"s":"ZQS-41","v":-1.0},{"d":16,"s":"ZQS-41","v":-2.0},{"d":17,"s":"ZQS-41","v":-2.2},{"d":18,"s":"ZQS-41","v":-2.4},{"d":19,"s":"ZQS-41","v":-2.5},
{"d":20,"s":"ZQS-41","v":-2.5},{"d":21,"s":"ZQS-41","v":-2.6},{"d":22,"s":"ZQS-41","v":-2.8},{"d":23,"s":"ZQS-41","v":-3.0},{"d":24,"s":"ZQS-41","v":-3.2},{"d":25,"s":"ZQS-41","v":-3.4},{"d":26,"s":"ZQS-41","v":-3.2},{"d":27,"s":"ZQS-41","v":-3.0},{"d":28,"s":"ZQS-41","v":-2.9},{"d":29,"s":"ZQS-41","v":-3.2},
{"d":30,"s":"ZQS-41","v":-3.5},{"d":31,"s":"ZQS-41","v":-3.3},{"d":32,"s":"ZQS-41","v":-3.6},{"d":33,"s":"ZQS-41","v":-3.9},{"d":34,"s":"ZQS-41","v":-4.1},{"d":35,"s":"ZQS-41","v":-3.8},{"d":36,"s":"ZQS-41","v":-3.4},{"d":37,"s":"ZQS-41","v":-3.2},{"d":38,"s":"ZQS-41","v":-3.4},{"d":39,"s":"ZQS-41","v":-3.7},
{"d":40,"s":"ZQS-41","v":-3.9},{"d":41,"s":"ZQS-41","v":-4.2},{"d":42,"s":"ZQS-41","v":-4.5},{"d":43,"s":"ZQS-41","v":-4.8},{"d":44,"s":"ZQS-41","v":-4.9},{"d":45,"s":"ZQS-41","v":-5.0},{"d":46,"s":"ZQS-41","v":-5.1},{"d":47,"s":"ZQS-41","v":-5.4},{"d":48,"s":"ZQS-41","v":-5.7},{"d":49,"s":"ZQS-41","v":-6.0},
{"d":50,"s":"ZQS-41","v":-6.2},{"d":51,"s":"ZQS-41","v":-6.4},{"d":52,"s":"ZQS-41","v":-6.5},{"d":53,"s":"ZQS-41","v":-6.6},{"d":54,"s":"ZQS-41","v":-6.8},{"d":55,"s":"ZQS-41","v":-6.9},{"d":56,"s":"ZQS-41","v":-7.1},{"d":57,"s":"ZQS-41","v":-7.3},{"d":58,"s":"ZQS-41","v":-7.5},{"d":59,"s":"ZQS-41","v":-7.7},
{"d":60,"s":"ZQS-41","v":-7.8},{"d":61,"s":"ZQS-41","v":-8.0},{"d":62,"s":"ZQS-41","v":-8.1},{"d":63,"s":"ZQS-41","v":-8.2},{"d":64,"s":"ZQS-41","v":-8.4},{"d":65,"s":"ZQS-41","v":-8.3},{"d":66,"s":"ZQS-41","v":-8.1},{"d":67,"s":"ZQS-41","v":-8.0},{"d":68,"s":"ZQS-41","v":-7.9},{"d":69,"s":"ZQS-41","v":-8.0},
{"d":70,"s":"ZQS-41","v":-8.0},{"d":71,"s":"ZQS-41","v":-8.3},{"d":72,"s":"ZQS-41","v":-8.5},{"d":73,"s":"ZQS-41","v":-8.6},{"d":74,"s":"ZQS-41","v":-8.7},{"d":75,"s":"ZQS-41","v":-8.9},{"d":76,"s":"ZQS-41","v":-9.1},{"d":77,"s":"ZQS-41","v":-9.4},{"d":78,"s":"ZQS-41","v":-9.7},{"d":79,"s":"ZQS-41","v":-10.0},
{"d":80,"s":"ZQS-41","v":-10.1},{"d":81,"s":"ZQS-41","v":-10.2},{"d":82,"s":"ZQS-41","v":-10.4},{"d":83,"s":"ZQS-41","v":-10.6},{"d":84,"s":"ZQS-41","v":-10.9},{"d":85,"s":"ZQS-41","v":-11.3},{"d":86,"s":"ZQS-41","v":-11.8},{"d":87,"s":"ZQS-41","v":-12.3},{"d":88,"s":"ZQS-41","v":-12.2},{"d":89,"s":"ZQS-41","v":-12.0},
{"d":90,"s":"ZQS-41","v":-12.0},{"d":91,"s":"ZQS-41","v":-11.9},{"d":92,"s":"ZQS-41","v":-12.0},{"d":93,"s":"ZQS-41","v":-11.9},{"d":94,"s":"ZQS-41","v":-11.6},{"d":95,"s":"ZQS-41","v":-11.4},{"d":96,"s":"ZQS-41","v":-11.2},{"d":97,"s":"ZQS-41","v":-11.0},{"d":98,"s":"ZQS-41","v":-10.8},{"d":99,"s":"ZQS-41","v":-10.5},
{"d":100,"s":"ZQS-41","v":-10.3},{"d":101,"s":"ZQS-41","v":-10.1},{"d":102,"s":"ZQS-41","v":-9.9},{"d":103,"s":"ZQS-41","v":-9.6},{"d":104,"s":"ZQS-41","v":-9.7},{"d":105,"s":"ZQS-41","v":-9.9},{"d":106,"s":"ZQS-41","v":-9.6},{"d":107,"s":"ZQS-41","v":-9.1},{"d":108,"s":"ZQS-41","v":-8.7},{"d":109,"s":"ZQS-41","v":-8.3},
{"d":110,"s":"ZQS-41","v":-8.0},{"d":111,"s":"ZQS-41","v":-7.8},{"d":112,"s":"ZQS-41","v":-8.0},{"d":113,"s":"ZQS-41","v":-8.4},{"d":114,"s":"ZQS-41","v":-8.6},{"d":115,"s":"ZQS-41","v":-8.9},{"d":116,"s":"ZQS-41","v":-8.9},{"d":117,"s":"ZQS-41","v":-8.7},{"d":118,"s":"ZQS-41","v":-8.6},{"d":119,"s":"ZQS-41","v":-8.9},
{"d":120,"s":"ZQS-41","v":-9.2},{"d":121,"s":"ZQS-41","v":-9.4},{"d":122,"s":"ZQS-41","v":-9.3},{"d":123,"s":"ZQS-41","v":-9.2},{"d":124,"s":"ZQS-41","v":-9.1},{"d":125,"s":"ZQS-41","v":-9.0},{"d":126,"s":"ZQS-41","v":-8.9},{"d":127,"s":"ZQS-41","v":-8.8},{"d":128,"s":"ZQS-41","v":-8.3},{"d":129,"s":"ZQS-41","v":-7.8},
{"d":130,"s":"ZQS-41","v":-7.9},{"d":131,"s":"ZQS-41","v":-8.2},{"d":132,"s":"ZQS-41","v":-8.4},{"d":133,"s":"ZQS-41","v":-8.6},{"d":134,"s":"ZQS-41","v":-8.8},{"d":135,"s":"ZQS-41","v":-8.9},{"d":136,"s":"ZQS-41","v":-8.9},{"d":137,"s":"ZQS-41","v":-8.9},{"d":138,"s":"ZQS-41","v":-8.8},{"d":139,"s":"ZQS-41","v":-8.7},
{"d":140,"s":"ZQS-41","v":-8.6},{"d":141,"s":"ZQS-41","v":-9.2},{"d":142,"s":"ZQS-41","v":-9.7},{"d":143,"s":"ZQS-41","v":-9.9},{"d":144,"s":"ZQS-41","v":-9.5},{"d":145,"s":"ZQS-41","v":-9.4},{"d":146,"s":"ZQS-41","v":-9.7},{"d":147,"s":"ZQS-41","v":-9.9},{"d":148,"s":"ZQS-41","v":-10.3},{"d":149,"s":"ZQS-41","v":-10.8},
{"d":150,"s":"ZQS-41","v":-10.6},{"d":151,"s":"ZQS-41","v":-10.4},{"d":152,"s":"ZQS-41","v":-10.3},{"d":153,"s":"ZQS-41","v":-10.8},{"d":154,"s":"ZQS-41","v":-11.2},
{"d":1,"s":"ZQS-42","v":1.9},{"d":3,"s":"ZQS-42","v":1.0},{"d":5,"s":"ZQS-42","v":1.3},{"d":7,"s":"ZQS-42","v":1.8},{"d":9,"s":"ZQS-42","v":1.6},
{"d":10,"s":"ZQS-42","v":1.0},{"d":11,"s":"ZQS-42","v":0.5},{"d":12,"s":"ZQS-42","v":0.5},{"d":13,"s":"ZQS-42","v":0.4},{"d":14,"s":"ZQS-42","v":0.6},{"d":15,"s":"ZQS-42","v":0.7},{"d":16,"s":"ZQS-42","v":0.8},{"d":17,"s":"ZQS-42","v":0.9},{"d":18,"s":"ZQS-42","v":1.0},{"d":19,"s":"ZQS-42","v":0.6},
{"d":20,"s":"ZQS-42","v":0.3},{"d":21,"s":"ZQS-42","v":0.4},{"d":22,"s":"ZQS-42","v":0.6},{"d":23,"s":"ZQS-42","v":0.5},{"d":24,"s":"ZQS-42","v":0.7},{"d":25,"s":"ZQS-42","v":0.9},{"d":26,"s":"ZQS-42","v":1.1},{"d":27,"s":"ZQS-42","v":1.0},{"d":28,"s":"ZQS-42","v":1.3},{"d":29,"s":"ZQS-42","v":1.2},
{"d":30,"s":"ZQS-42","v":1.4},{"d":31,"s":"ZQS-42","v":1.3},{"d":32,"s":"ZQS-42","v":1.4},{"d":33,"s":"ZQS-42","v":1.1},{"d":34,"s":"ZQS-42","v":0.7},{"d":35,"s":"ZQS-42","v":0.4},{"d":36,"s":"ZQS-42","v":0.5},{"d":37,"s":"ZQS-42","v":0.3},{"d":38,"s":"ZQS-42","v":0.2},{"d":39,"s":"ZQS-42","v":0.0},
{"d":40,"s":"ZQS-42","v":-0.1},{"d":41,"s":"ZQS-42","v":-0.3},{"d":42,"s":"ZQS-42","v":-0.5},{"d":43,"s":"ZQS-42","v":-0.7},{"d":44,"s":"ZQS-42","v":-0.9},{"d":45,"s":"ZQS-42","v":-1.2},{"d":46,"s":"ZQS-42","v":-1.7},{"d":47,"s":"ZQS-42","v":-2.3},{"d":48,"s":"ZQS-42","v":-2.9},{"d":49,"s":"ZQS-42","v":-3.2},
{"d":50,"s":"ZQS-42","v":-3.4},{"d":51,"s":"ZQS-42","v":-3.6},{"d":52,"s":"ZQS-42","v":-3.9},{"d":53,"s":"ZQS-42","v":-4.1},{"d":54,"s":"ZQS-42","v":-4.3},{"d":55,"s":"ZQS-42","v":-4.5},{"d":56,"s":"ZQS-42","v":-4.8},{"d":57,"s":"ZQS-42","v":-5.1},{"d":58,"s":"ZQS-42","v":-5.4},{"d":59,"s":"ZQS-42","v":-5.7},
{"d":60,"s":"ZQS-42","v":-5.9},{"d":61,"s":"ZQS-42","v":-6.1},{"d":62,"s":"ZQS-42","v":-6.3},{"d":63,"s":"ZQS-42","v":-6.5},{"d":64,"s":"ZQS-42","v":-6.6},{"d":65,"s":"ZQS-42","v":-6.7},{"d":66,"s":"ZQS-42","v":-6.7},{"d":67,"s":"ZQS-42","v":-6.9},{"d":68,"s":"ZQS-42","v":-7.2},{"d":69,"s":"ZQS-42","v":-7.5},
{"d":70,"s":"ZQS-42","v":-7.3},{"d":71,"s":"ZQS-42","v":-7.2},{"d":72,"s":"ZQS-42","v":-7.4},{"d":73,"s":"ZQS-42","v":-7.5},{"d":74,"s":"ZQS-42","v":-7.4},{"d":75,"s":"ZQS-42","v":-7.6},{"d":76,"s":"ZQS-42","v":-7.8},{"d":77,"s":"ZQS-42","v":-8.1},{"d":78,"s":"ZQS-42","v":-8.4},{"d":79,"s":"ZQS-42","v":-8.7},
{"d":80,"s":"ZQS-42","v":-8.8},{"d":81,"s":"ZQS-42","v":-8.9},{"d":82,"s":"ZQS-42","v":-9.1},{"d":83,"s":"ZQS-42","v":-9.2},{"d":84,"s":"ZQS-42","v":-9.4},{"d":85,"s":"ZQS-42","v":-9.6},{"d":86,"s":"ZQS-42","v":-9.9},{"d":87,"s":"ZQS-42","v":-10.1},{"d":88,"s":"ZQS-42","v":-10.3},{"d":89,"s":"ZQS-42","v":-10.6},
{"d":90,"s":"ZQS-42","v":-10.9},{"d":91,"s":"ZQS-42","v":-11.2},{"d":92,"s":"ZQS-42","v":-11.5},{"d":93,"s":"ZQS-42","v":-11.9},{"d":94,"s":"ZQS-42","v":-12.2},{"d":95,"s":"ZQS-42","v":-11.6},{"d":96,"s":"ZQS-42","v":-11.3},{"d":97,"s":"ZQS-42","v":-11.1},{"d":98,"s":"ZQS-42","v":-11.4},{"d":99,"s":"ZQS-42","v":-11.6},
{"d":100,"s":"ZQS-42","v":-11.4},{"d":101,"s":"ZQS-42","v":-11.1},{"d":102,"s":"ZQS-42","v":-10.8},{"d":103,"s":"ZQS-42","v":-10.4},{"d":104,"s":"ZQS-42","v":-10.2},{"d":105,"s":"ZQS-42","v":-10.0},{"d":106,"s":"ZQS-42","v":-9.7},{"d":107,"s":"ZQS-42","v":-9.4},{"d":108,"s":"ZQS-42","v":-9.0},{"d":109,"s":"ZQS-42","v":-8.5},
{"d":110,"s":"ZQS-42","v":-8.2},{"d":111,"s":"ZQS-42","v":-8.5},{"d":112,"s":"ZQS-42","v":-8.9},{"d":113,"s":"ZQS-42","v":-7.9},{"d":114,"s":"ZQS-42","v":-7.3},{"d":115,"s":"ZQS-42","v":-7.8},{"d":116,"s":"ZQS-42","v":-8.5},{"d":117,"s":"ZQS-42","v":-8.4},{"d":118,"s":"ZQS-42","v":-8.2},{"d":119,"s":"ZQS-42","v":-8.8},
{"d":120,"s":"ZQS-42","v":-9.2},{"d":121,"s":"ZQS-42","v":-9.0},{"d":122,"s":"ZQS-42","v":-8.9},{"d":123,"s":"ZQS-42","v":-9.3},{"d":124,"s":"ZQS-42","v":-9.8},{"d":125,"s":"ZQS-42","v":-10.0},{"d":126,"s":"ZQS-42","v":-10.3},{"d":127,"s":"ZQS-42","v":-10.4},{"d":128,"s":"ZQS-42","v":-10.5},{"d":129,"s":"ZQS-42","v":-10.9},
{"d":130,"s":"ZQS-42","v":-11.1},{"d":131,"s":"ZQS-42","v":-11.3},{"d":132,"s":"ZQS-42","v":-11.0},{"d":133,"s":"ZQS-42","v":-10.8},{"d":134,"s":"ZQS-42","v":-11.2},{"d":135,"s":"ZQS-42","v":-11.6},{"d":136,"s":"ZQS-42","v":-11.9},{"d":137,"s":"ZQS-42","v":-12.2},{"d":138,"s":"ZQS-42","v":-11.8},{"d":139,"s":"ZQS-42","v":-11.5},
{"d":140,"s":"ZQS-42","v":-11.4},{"d":141,"s":"ZQS-42","v":-12.0},{"d":142,"s":"ZQS-42","v":-12.5},{"d":143,"s":"ZQS-42","v":-12.9},{"d":144,"s":"ZQS-42","v":-12.4},{"d":145,"s":"ZQS-42","v":-11.9},{"d":146,"s":"ZQS-42","v":-12.6},{"d":147,"s":"ZQS-42","v":-13.2},{"d":148,"s":"ZQS-42","v":-13.8},{"d":149,"s":"ZQS-42","v":-13.5},
{"d":150,"s":"ZQS-42","v":-13.2},{"d":151,"s":"ZQS-42","v":-13.0},{"d":152,"s":"ZQS-42","v":-13.3},{"d":153,"s":"ZQS-42","v":-13.5},{"d":154,"s":"ZQS-42","v":-13.7},
{"d":1,"s":"ZQS-43","v":1.4},{"d":3,"s":"ZQS-43","v":1.9},{"d":5,"s":"ZQS-43","v":1.6},{"d":7,"s":"ZQS-43","v":1.2},{"d":9,"s":"ZQS-43","v":1.5},
{"d":10,"s":"ZQS-43","v":1.6},{"d":11,"s":"ZQS-43","v":1.7},{"d":12,"s":"ZQS-43","v":2.0},{"d":13,"s":"ZQS-43","v":1.8},{"d":14,"s":"ZQS-43","v":1.9},{"d":15,"s":"ZQS-43","v":2.2},{"d":16,"s":"ZQS-43","v":2.3},{"d":17,"s":"ZQS-43","v":2.4},{"d":18,"s":"ZQS-43","v":2.3},{"d":19,"s":"ZQS-43","v":1.9},
{"d":20,"s":"ZQS-43","v":1.4},{"d":21,"s":"ZQS-43","v":1.1},{"d":22,"s":"ZQS-43","v":0.9},{"d":23,"s":"ZQS-43","v":0.8},{"d":24,"s":"ZQS-43","v":0.7},{"d":25,"s":"ZQS-43","v":0.5},{"d":26,"s":"ZQS-43","v":0.6},{"d":27,"s":"ZQS-43","v":0.7},{"d":28,"s":"ZQS-43","v":0.5},{"d":29,"s":"ZQS-43","v":0.2},
{"d":30,"s":"ZQS-43","v":0.1},{"d":31,"s":"ZQS-43","v":0.0},{"d":32,"s":"ZQS-43","v":-0.1},{"d":33,"s":"ZQS-43","v":-0.1},{"d":34,"s":"ZQS-43","v":-0.3},{"d":35,"s":"ZQS-43","v":-0.6},{"d":36,"s":"ZQS-43","v":-0.8},{"d":37,"s":"ZQS-43","v":-1.0},{"d":38,"s":"ZQS-43","v":-1.3},{"d":39,"s":"ZQS-43","v":-1.2},
{"d":40,"s":"ZQS-43","v":-1.0},{"d":41,"s":"ZQS-43","v":-0.9},{"d":42,"s":"ZQS-43","v":-1.5},{"d":43,"s":"ZQS-43","v":-2.2},{"d":44,"s":"ZQS-43","v":-2.7},{"d":45,"s":"ZQS-43","v":-3.0},{"d":46,"s":"ZQS-43","v":-3.4},{"d":47,"s":"ZQS-43","v":-3.7},{"d":48,"s":"ZQS-43","v":-4.1},{"d":49,"s":"ZQS-43","v":-4.4},
{"d":50,"s":"ZQS-43","v":-4.7},{"d":51,"s":"ZQS-43","v":-5.1},{"d":52,"s":"ZQS-43","v":-5.5},{"d":53,"s":"ZQS-43","v":-5.7},{"d":54,"s":"ZQS-43","v":-5.9},{"d":55,"s":"ZQS-43","v":-6.2},{"d":56,"s":"ZQS-43","v":-6.5},{"d":57,"s":"ZQS-43","v":-6.6},{"d":58,"s":"ZQS-43","v":-6.9},{"d":59,"s":"ZQS-43","v":-7.1},
{"d":60,"s":"ZQS-43","v":-7.3},{"d":61,"s":"ZQS-43","v":-7.4},{"d":62,"s":"ZQS-43","v":-7.5},{"d":63,"s":"ZQS-43","v":-7.6},{"d":64,"s":"ZQS-43","v":-7.9},{"d":65,"s":"ZQS-43","v":-8.7},{"d":66,"s":"ZQS-43","v":-8.9},{"d":67,"s":"ZQS-43","v":-8.6},{"d":68,"s":"ZQS-43","v":-8.3},{"d":69,"s":"ZQS-43","v":-8.4},
{"d":70,"s":"ZQS-43","v":-8.9},{"d":71,"s":"ZQS-43","v":-9.3},{"d":72,"s":"ZQS-43","v":-9.5},{"d":73,"s":"ZQS-43","v":-9.6},{"d":74,"s":"ZQS-43","v":-9.9},{"d":75,"s":"ZQS-43","v":-10.1},{"d":76,"s":"ZQS-43","v":-10.3},{"d":77,"s":"ZQS-43","v":-10.6},{"d":78,"s":"ZQS-43","v":-10.8},{"d":79,"s":"ZQS-43","v":-11.0},
{"d":80,"s":"ZQS-43","v":-11.1},{"d":81,"s":"ZQS-43","v":-11.3},{"d":82,"s":"ZQS-43","v":-11.5},{"d":83,"s":"ZQS-43","v":-11.4},{"d":84,"s":"ZQS-43","v":-11.5},{"d":85,"s":"ZQS-43","v":-11.3},{"d":86,"s":"ZQS-43","v":-11.5},{"d":87,"s":"ZQS-43","v":-11.4},{"d":88,"s":"ZQS-43","v":-11.6},{"d":89,"s":"ZQS-43","v":-11.5},
{"d":90,"s":"ZQS-43","v":-11.6},{"d":91,"s":"ZQS-43","v":-11.8},{"d":92,"s":"ZQS-43","v":-12.3},{"d":93,"s":"ZQS-43","v":-12.8},{"d":94,"s":"ZQS-43","v":-13.2},{"d":95,"s":"ZQS-43","v":-12.8},{"d":96,"s":"ZQS-43","v":-12.6},{"d":97,"s":"ZQS-43","v":-12.4},{"d":98,"s":"ZQS-43","v":-12.3},{"d":99,"s":"ZQS-43","v":-12.6},
{"d":100,"s":"ZQS-43","v":-12.5},{"d":101,"s":"ZQS-43","v":-12.3},{"d":102,"s":"ZQS-43","v":-12.1},{"d":103,"s":"ZQS-43","v":-12.0},{"d":104,"s":"ZQS-43","v":-11.7},{"d":105,"s":"ZQS-43","v":-11.3},{"d":106,"s":"ZQS-43","v":-10.9},{"d":107,"s":"ZQS-43","v":-10.5},{"d":108,"s":"ZQS-43","v":-10.2},{"d":109,"s":"ZQS-43","v":-9.9},
{"d":110,"s":"ZQS-43","v":-9.8},{"d":111,"s":"ZQS-43","v":-9.9},{"d":112,"s":"ZQS-43","v":-9.9},{"d":113,"s":"ZQS-43","v":-10.4},{"d":114,"s":"ZQS-43","v":-10.9},{"d":115,"s":"ZQS-43","v":-11.2},{"d":116,"s":"ZQS-43","v":-11.4},{"d":117,"s":"ZQS-43","v":-11.6},{"d":118,"s":"ZQS-43","v":-11.5},{"d":119,"s":"ZQS-43","v":-10.9},
{"d":120,"s":"ZQS-43","v":-10.4},{"d":121,"s":"ZQS-43","v":-10.1},{"d":122,"s":"ZQS-43","v":-9.9},{"d":123,"s":"ZQS-43","v":-10.1},{"d":124,"s":"ZQS-43","v":-10.7},{"d":125,"s":"ZQS-43","v":-11.2},{"d":126,"s":"ZQS-43","v":-11.6},{"d":127,"s":"ZQS-43","v":-11.0},{"d":128,"s":"ZQS-43","v":-10.5},{"d":129,"s":"ZQS-43","v":-9.7},
{"d":130,"s":"ZQS-43","v":-9.6},{"d":131,"s":"ZQS-43","v":-9.8},{"d":132,"s":"ZQS-43","v":-9.7},{"d":133,"s":"ZQS-43","v":-9.8},{"d":134,"s":"ZQS-43","v":-9.9},{"d":135,"s":"ZQS-43","v":-9.7},{"d":136,"s":"ZQS-43","v":-9.9},{"d":137,"s":"ZQS-43","v":-9.8},{"d":138,"s":"ZQS-43","v":-9.6},{"d":139,"s":"ZQS-43","v":-9.6},
{"d":140,"s":"ZQS-43","v":-9.4},{"d":141,"s":"ZQS-43","v":-9.1},{"d":142,"s":"ZQS-43","v":-8.9},{"d":143,"s":"ZQS-43","v":-8.7},{"d":144,"s":"ZQS-43","v":-8.5},{"d":145,"s":"ZQS-43","v":-8.2},{"d":146,"s":"ZQS-43","v":-8.0},{"d":147,"s":"ZQS-43","v":-7.7},{"d":148,"s":"ZQS-43","v":-7.4},{"d":149,"s":"ZQS-43","v":-6.9},
{"d":150,"s":"ZQS-43","v":-6.4},{"d":151,"s":"ZQS-43","v":-5.8},{"d":152,"s":"ZQS-43","v":-6.6},{"d":153,"s":"ZQS-43","v":-6.3},{"d":154,"s":"ZQS-43","v":-5.7}
]},
"layer":[
{"data":{"name":"rules"},
 "mark":{"type":"rule","color":"#e8403a","strokeDash":[2,2],"strokeWidth":1},
 "encoding":{"x":{"field":"d","type":"quantitative","scale":{"domain":[0,155],"nice":false,"zero":false},
   "axis":{"orient":"bottom","title":"Time/d","values":[0,20,40,60,80,100,120,140],"format":"d",
     "tickSize":7,"labelPadding":5,"labelFont":"Liberation Serif","labelFontSize":18,"labelColor":"#333","labelFlush":false,"labelOverlap":false,
     "domainColor":"#222","domainWidth":1.5,"tickColor":"#222","tickWidth":1.5,"grid":false,
     "titleFont":"Liberation Serif","titleFontSize":22,"titleFontWeight":"normal","titleColor":"#111","titleY":64,"titleBaseline":"alphabetic"}}}},
{"data":{"name":"pts"},
 "mark":{"type":"line","strokeWidth":1},
 "encoding":{
   "x":{"field":"d","type":"quantitative","axis":null},
   "y":{"field":"v","type":"quantitative","scale":{"domain":[-22.5,5],"nice":false,"zero":false},
     "axis":{"orient":"left","title":"Horizontal displacement of pile top/mm","values":[5,0,-5,-10,-15,-20],"format":"d",
       "tickSize":8,"labelPadding":2,"labelFont":"Liberation Serif","labelFontSize":18,"labelColor":"#333","labelFlush":false,"labelOverlap":false,
       "domainColor":"#222","domainWidth":1.5,"tickColor":"#222","tickWidth":1.5,"grid":false,
       "titleFont":"Liberation Serif","titleFontSize":18,"titleFontWeight":"normal","titleColor":"#111","titleX":-57,"titleY":133,"titleAngle":-90,"titleAlign":"center","titleBaseline":"middle"}},
   "color":{"field":"s","type":"nominal","scale":{"domain":["ZQS-02","ZQS-03","ZQS-04","ZQS-05","ZQS-06","ZQS-41","ZQS-42","ZQS-43"],"range":["#4a4a4a","#e8413d","#3a66b8","#3da56a","#a078be","#c8952a","#2ec0c0","#6b4844"]},
     "legend":{"orient":"none","legendX":1121,"legendY":-182,"title":null,"padding":0,
       "labelFont":"Liberation Serif","labelFontSize":14.5,"labelColor":"#222","labelOffset":14.5,"symbolSize":100,"rowPadding":4,"symbolStrokeWidth":0.5,
       "encode":{"symbols":{"update":{
         "shape":{"signal":"['M-3.6,-0.16H3.6V0.16H-3.6ZM-1,-1H1V1H-1Z','M-3.6,-0.16H3.6V0.16H-3.6ZM-1,0A1,1,0,1,0,1,0A1,1,0,1,0,-1,0Z','M-3.6,-0.16H3.6V0.16H-3.6ZM0,-0.866L1,0.866L-1,0.866Z','M-3.6,-0.16H3.6V0.16H-3.6ZM0,0.866L1,-0.866L-1,-0.866Z','M-3.6,-0.16H3.6V0.16H-3.6ZM-1,0L0,-1L1,0L0,1Z','M-3.6,-0.16H3.6V0.16H-3.6ZM-0.866,0L0.866,-1L0.866,1Z','M-3.6,-0.16H3.6V0.16H-3.6ZM0.866,0L-0.866,-1L-0.866,1Z','M-3.6,-0.16H3.6V0.16H-3.6ZM0,-1L0.866,-0.5L0.866,0.5L0,1L-0.866,0.5L-0.866,-0.5Z'][indexof(['ZQS-02','ZQS-03','ZQS-04','ZQS-05','ZQS-06','ZQS-41','ZQS-42','ZQS-43'], datum.value)]"},
         "size":{"value":100},
         "fillOpacity":{"value":1},"opacity":{"value":1}}}}}}
 }},
{"data":{"name":"pts"},
 "transform":[{"calculate":"datum.s","as":"sk"}],
 "mark":{"type":"point","filled":true,"opacity":1},
 "encoding":{
   "x":{"field":"d","type":"quantitative","axis":null},
   "y":{"field":"v","type":"quantitative","axis":null},
   "color":{"field":"s","type":"nominal"},
   "shape":{"field":"sk","type":"nominal","legend":null,"scale":{"domain":["ZQS-02","ZQS-03","ZQS-04","ZQS-05","ZQS-06","ZQS-41","ZQS-42","ZQS-43"],"range":["square","circle","triangle-up","triangle-down","diamond","triangle-left","triangle-right","M0,-1L0.866,-0.5L0.866,0.5L0,1L-0.866,0.5L-0.866,-0.5Z"]}},
   "size":{"field":"sk","type":"ordinal","legend":null,"scale":{"domain":["ZQS-02","ZQS-03","ZQS-04","ZQS-05","ZQS-06","ZQS-41","ZQS-42","ZQS-43"],"range":[120,140,200,200,170,200,200,170]}}
 }},
{"data":{"name":"notes"},
 "mark":{"type":"text","font":"Liberation Serif","fontSize":17,"color":"#333","align":"center","baseline":"alphabetic"},
 "encoding":{"x":{"field":"d","type":"quantitative","axis":null},"y":{"field":"v","type":"quantitative","axis":null},"text":{"field":"t","type":"nominal"}}},
{"data":{"name":"notes"},
 "mark":{"type":"point","opacity":0},
 "encoding":{
   "x":{"field":"d","type":"quantitative","axis":{"orient":"bottom","values":[10,30,50,70,90,110,130,150],"labels":false,"domain":false,"tickSize":4,"tickColor":"#222","tickWidth":1.5,"title":null,"grid":false}},
   "y":{"field":"v","type":"quantitative","axis":{"orient":"left","values":[2.5,-2.5,-7.5,-12.5,-17.5],"labels":false,"domain":false,"tickSize":4,"tickColor":"#222","tickWidth":1.5,"title":null,"grid":false}}}}
]
}
